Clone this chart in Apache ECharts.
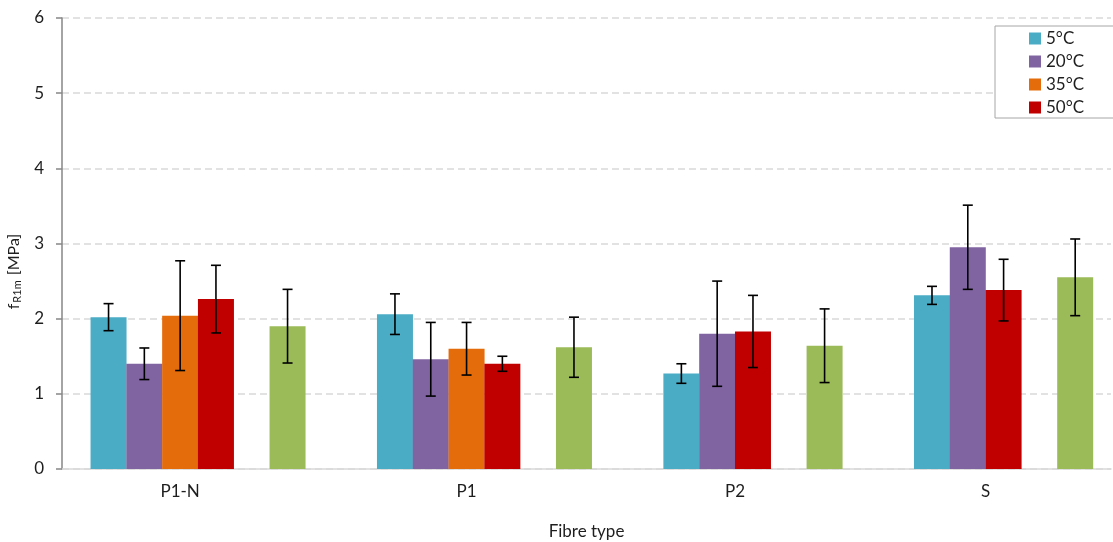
<!DOCTYPE html>
<html>
<head>
<meta charset="utf-8">
<script src="https://cdn.jsdelivr.net/npm/echarts@6/dist/echarts.min.js"></script>
<style>
  html, body { margin: 0; padding: 0; background: #fff; }
  #chart { width: 1113px; height: 542px; }
</style>
</head>
<body>
<div id="chart"></div>
<script>
// Residual flexural strength fR1m per fibre type and test temperature (mean ± sd)
const fibreTypes   = ['P1-N', 'P1', 'P2', 'S'];
const temperatures = ['5°C', '20°C', '35°C', '50°C'];

const fR1m_5C  = [2.02, 2.06, 1.27, 2.31];
const fR1m_20C = [1.40, 1.46, 1.80, 2.95];
const fR1m_35C = [2.04, 1.60, null, null];
const fR1m_50C = [2.26, 1.40, 1.83, 2.38];
const fR1m_all = [1.90, 1.62, 1.64, 2.55];

const sd_5C  = [0.18, 0.27, 0.13, 0.12];
const sd_20C = [0.21, 0.49, 0.70, 0.56];
const sd_35C = [0.73, 0.35, null, null];
const sd_50C = [0.45, 0.10, 0.48, 0.41];
const sd_all = [0.49, 0.40, 0.49, 0.51];

const yTickMin = 0, yTickMax = 6, yTickStep = 1;

const colors = ['#4BACC6', '#8064A2', '#E46C0A', '#C00000'];
const colorAll = '#9BBB59';
const font = 'Lato, "Open Sans", sans-serif';
const textColor = '#1e1e1e';

// Lay bars out slot by slot: the temperatures present for a fibre type side by side,
// one empty slot, the overall bar, then a gap before the next fibre type.
const tempValues = [fR1m_5C, fR1m_20C, fR1m_35C, fR1m_50C];
const tempSd = [sd_5C, sd_20C, sd_35C, sd_50C];
const barData = tempValues.map(() => []);
const allData = [];
const errData = [];
const groupLabels = [];
let slot = 0;
fibreTypes.forEach((name, ci) => {
  const first = slot;
  tempValues.forEach((vals, si) => {
    if (vals[ci] == null) return;
    barData[si].push([slot, vals[ci]]);
    errData.push([slot, vals[ci], tempSd[si][ci]]);
    slot++;
  });
  const spacer = slot;
  slot++;
  groupLabels.push({ pos: (first + spacer) / 2, name });
  allData.push([slot, fR1m_all[ci]]);
  errData.push([slot, fR1m_all[ci], sd_all[ci]]);
  slot += 3;
});

const barCommon = { type: 'bar', barWidth: 36, barGap: '-100%', z: 2 };

const series = temperatures.map((t, si) => Object.assign({}, barCommon, {
  name: t,
  data: barData[si],
  itemStyle: { color: colors[si] }
}));
series.push(Object.assign({}, barCommon, {
  name: 'All',
  data: allData,
  itemStyle: { color: colorAll }
}));
series.push({
  type: 'custom',
  name: 'sd',
  z: 5,
  data: errData,
  encode: { x: 0, y: 1 },
  renderItem(params, api) {
    const x = api.value(0), y = api.value(1), e = api.value(2);
    const top = api.coord([x, y + e]);
    const bot = api.coord([x, y - e]);
    const h = 5;
    const st = { stroke: '#000', lineWidth: 1.6 };
    return {
      type: 'group',
      children: [
        { type: 'line', shape: { x1: top[0], y1: top[1], x2: bot[0], y2: bot[1] }, style: st },
        { type: 'line', shape: { x1: top[0] - h, y1: top[1], x2: top[0] + h, y2: top[1] }, style: st },
        { type: 'line', shape: { x1: bot[0] - h, y1: bot[1], x2: bot[0] + h, y2: bot[1] }, style: st }
      ]
    };
  }
});

const chart = echarts.init(document.getElementById('chart'), null, { renderer: 'canvas' });
chart.setOption({
  animation: false,
  backgroundColor: '#fff',
  textStyle: { fontFamily: font },
  grid: { left: 62, right: 2, top: 18, bottom: 73, containLabel: false, outerBoundsMode: 'none' },
  legend: {
    data: temperatures,
    orient: 'vertical',
    left: 995,
    top: 26,
    padding: [4, 30, 2, 34],
    itemWidth: 12,
    itemHeight: 12,
    itemGap: 6,
    icon: 'rect',
    borderColor: '#a6a6a6',
    borderWidth: 1,
    backgroundColor: '#fff',
    textStyle: { fontFamily: font, fontSize: 17, color: textColor }
  },
  xAxis: {
    type: 'value',
    min: -1.3,
    max: 28,
    interval: 0.1,
    name: 'Fibre type',
    nameLocation: 'middle',
    nameGap: 54,
    nameTextStyle: { fontFamily: font, fontSize: 17, color: textColor },
    axisLine: { show: true, onZero: false, lineStyle: { color: '#d9d9d9', width: 1.5 } },
    axisTick: { show: false },
    splitLine: { show: false },
    axisLabel: {
      margin: 14,
      fontFamily: font,
      fontSize: 17,
      color: textColor,
      showMinLabel: true,
      showMaxLabel: true,
      formatter(v) {
        const hit = groupLabels.find(g => Math.abs(g.pos - v) < 1e-6);
        return hit ? hit.name : '';
      }
    }
  },
  yAxis: {
    type: 'value',
    min: yTickMin,
    max: yTickMax,
    interval: yTickStep,
    name: '{f|f}{s|R1m}{f| [MPa]}',
    nameLocation: 'middle',
    nameGap: 32,
    nameTextStyle: {
      color: textColor,
      padding: [0, 56, 0, 0],
      rich: {
        f: { fontFamily: font, fontSize: 16, color: textColor },
        s: { fontFamily: font, fontSize: 11, color: textColor, verticalAlign: 'bottom', padding: [7, 1, 0, 1] }
      }
    },
    axisLine: { show: true, onZero: false, lineStyle: { color: '#868686', width: 1.5 } },
    axisTick: { show: true, length: 6, lineStyle: { color: '#868686', width: 1.5 } },
    axisLabel: { margin: 18, fontFamily: font, fontSize: 17, color: textColor },
    splitLine: { show: true, lineStyle: { color: '#d9d9d9', width: 1.5, type: [7, 4] } }
  },
  series
});
</script>
</body>
</html>
